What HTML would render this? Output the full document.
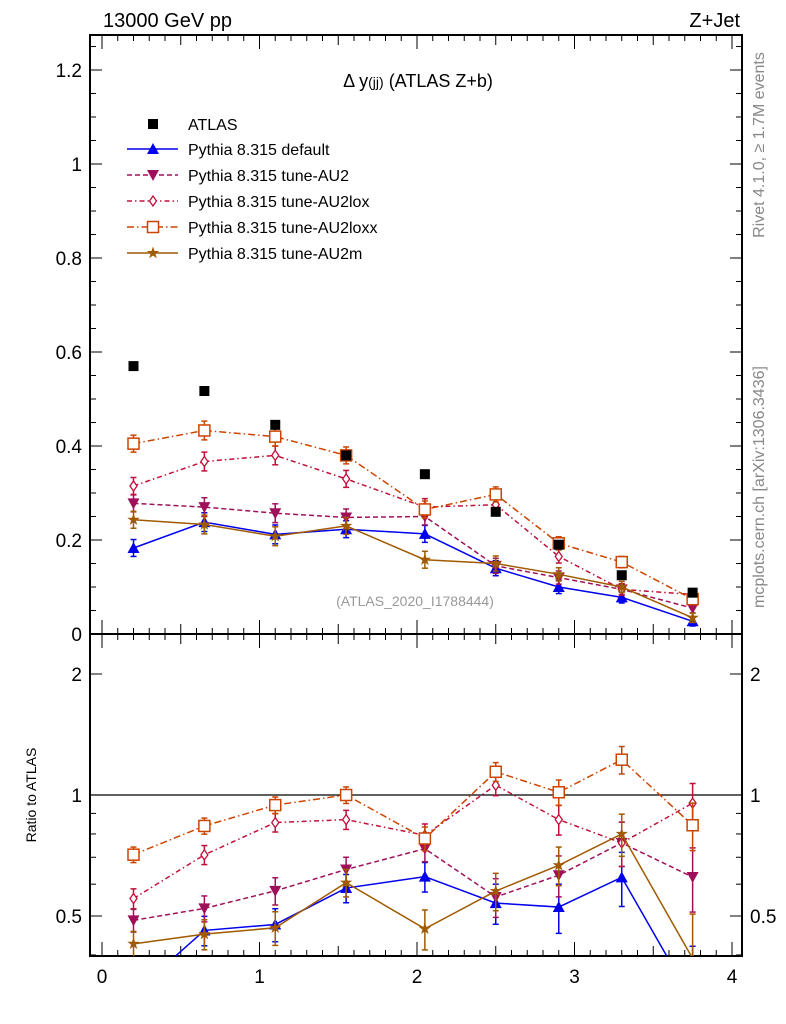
<!DOCTYPE html>
<html><head><meta charset="utf-8"><style>
html,body{margin:0;padding:0;background:#fff;overflow:hidden;width:786px;height:1024px}
svg{display:block}
svg text{font-family:"Liberation Sans",sans-serif}
</style></head><body>
<svg id="c" width="786" height="1024" xmlns="http://www.w3.org/2000/svg"></svg>
<script>
const xCenters=[0.2,0.65,1.1,1.55,2.05,2.5,2.9,3.3,3.75];
const atlas=[0.57,0.517,0.445,0.38,0.34,0.26,0.19,0.125,0.088];
const sDefault=[0.183,0.238,0.212,0.223,0.213,0.14,0.10,0.078,0.027];
const sAU2=[0.278,0.27,0.257,0.248,0.25,0.145,0.12,0.095,0.055];
const sAU2lox=[0.315,0.367,0.38,0.33,0.27,0.275,0.165,0.095,0.084];
const sAU2loxx=[0.405,0.433,0.42,0.38,0.265,0.297,0.193,0.153,0.074];
const sAU2m=[0.243,0.233,0.208,0.23,0.158,0.15,0.127,0.1,0.0345];
const errs=[0.018,0.02,0.02,0.018,0.018,0.016,0.014,0.012,0.01];
const xTicks=[0,1,2,3,4];
const yTicks=[0,0.2,0.4,0.6,0.8,1,1.2];
const yTickLabels=["0","0.2","0.4","0.6","0.8","1","1.2"];
const rTicks=[0.5,1,2];
const rTickLabels=["0.5","1","2"];

const L=90,R=742,T=35,MB=634,RB=956;
const X=v=>102+157.5*v;
const Y=v=>MB-470*v;
const RY=r=>795-402*Math.log10(r);
const svg=document.getElementById('c');
const NS='http://www.w3.org/2000/svg';
function el(tag,attrs,parent,txt){const e=document.createElementNS(NS,tag);for(const k in attrs)e.setAttribute(k,attrs[k]);if(txt!==undefined)e.textContent=txt;(parent||svg).appendChild(e);return e;}

const defs=el('defs',{});
const cp1=el('clipPath',{id:'cm'},defs);el('rect',{x:L,y:T,width:R-L,height:MB-T},cp1);
const cp2=el('clipPath',{id:'cr'},defs);el('rect',{x:L,y:MB,width:R-L,height:RB-MB},cp2);

let f=el('rect',{x:L,y:T,width:R-L,height:MB-T,fill:'none',stroke:'#000','stroke-width':2});

f=el('rect',{x:L,y:MB,width:R-L,height:RB-MB,fill:'none',stroke:'#000','stroke-width':2});


for(let v=0;v<=1.26;v+=0.05){const y=Y(v);const major=Math.abs(v/0.2-Math.round(v/0.2))<1e-6;const len=major?12:6;
 el('line',{x1:L,x2:L+len,y1:y,y2:y,stroke:'#000'});el('line',{x1:R,x2:R-len,y1:y,y2:y,stroke:'#000'});}
yTicks.forEach((v,i)=>{const t=el('text',{x:82,y:Y(v)+7,'text-anchor':'end','font-size':19},svg,yTickLabels[i]);
 });
for(let v=0;v<=4.05;v+=0.1){const x=X(v);const major=Math.abs(v-Math.round(v))<1e-6;const mid=Math.abs(v*2-Math.round(v*2))<1e-6;const len=major?14:(mid?10:6);
 [MB,RB].forEach(b=>el('line',{x1:x,x2:x,y1:b,y2:b-len,stroke:'#000'}));
 el('line',{x1:x,x2:x,y1:MB,y2:MB+len,stroke:'#000'});el('line',{x1:x,x2:x,y1:T,y2:T+len,stroke:'#000'});}
xTicks.forEach(v=>{const t=el('text',{x:X(v),y:983,'text-anchor':'middle','font-size':19},svg,String(v));
 });
[0.4,0.5,0.6,0.7,0.8,0.9,1,2].forEach(r=>{const y=RY(r);const major=[0.5,1,2].includes(r);const len=major?12:6;
 el('line',{x1:L,x2:L+len,y1:y,y2:y,stroke:'#000'});el('line',{x1:R,x2:R-len,y1:y,y2:y,stroke:'#000'});});
rTicks.forEach((r,i)=>{[[82,'end'],[750,'start']].forEach(([x,a])=>{const t=el('text',{x:x,y:RY(r)+7,'text-anchor':a,'font-size':19},svg,rTickLabels[i]);
 });});
el('line',{x1:L,x2:R,y1:RY(1),y2:RY(1),stroke:'#000','stroke-width':1.2});

const texts=[[103,27,'13000 GeV pp','start',20,'#000','header-energy'],[740,27,'Z+Jet','end',20,'#000','header-process'],
[415,606,'(ATLAS_2020_I1788444)','middle',14,'#999','analysis-id']];
texts.forEach(a=>{const t=el('text',{x:a[0],y:a[1],'text-anchor':a[3],'font-size':a[4],fill:a[5]},svg,a[2]);});
let t=el('text',{x:418,y:87,'text-anchor':'middle','font-size':18},svg);
t.innerHTML='Δ y<tspan font-size="14">(jj)</tspan> (ATLAS Z+b)';
t=el('text',{x:0,y:0,transform:'translate(764,145) rotate(-90)','text-anchor':'middle','font-size':16,fill:'#888'},svg,'Rivet 4.1.0, ≥ 1.7M events');

t=el('text',{x:0,y:0,transform:'translate(764,487) rotate(-90)','text-anchor':'middle','font-size':16,fill:'#888'},svg,'mcplots.cern.ch [arXiv:1306.3436]');

t=el('text',{x:0,y:0,transform:'translate(36,795) rotate(-90)','text-anchor':'middle','font-size':14},svg,'Ratio to ATLAS');


function marker(g,kind,x,y,c){
 if(kind==='sq')el('rect',{x:x-5,y:y-5,width:10,height:10,fill:'#000'},g);
 else if(kind==='tri')el('polygon',{points:`${x},${y-6} ${x-6},${y+5} ${x+6},${y+5}`,fill:c},g);
 else if(kind==='itri')el('polygon',{points:`${x},${y+6} ${x-6},${y-5} ${x+6},${y-5}`,fill:c},g);
 else if(kind==='dia')el('polygon',{points:`${x},${y-5} ${x-3.5},${y} ${x},${y+5} ${x+3.5},${y}`,fill:'#fff',stroke:c,'stroke-width':1.3},g);
 else if(kind==='osq')el('rect',{x:x-5.5,y:y-5.5,width:11,height:11,fill:'#fff',stroke:c,'stroke-width':1.5},g);
 else if(kind==='star'){let p=[];for(let i=0;i<10;i++){const r=i%2?2.5:6.5,a=-Math.PI/2+i*Math.PI/5;p.push((x+r*Math.cos(a)).toFixed(1)+','+(y+r*Math.sin(a)).toFixed(1));}el('polygon',{points:p.join(' '),fill:c},g);}
}
const series=[
 {name:'Pythia 8.315 default',vals:sDefault,c:'#0000ee',dash:'',m:'tri',id:'default'},
 {name:'Pythia 8.315 tune-AU2',vals:sAU2,c:'#a0105a',dash:'5,3',m:'itri',id:'au2'},
 {name:'Pythia 8.315 tune-AU2lox',vals:sAU2lox,c:'#c0103a',dash:'5,3,1.5,3',m:'dia',id:'au2lox'},
 {name:'Pythia 8.315 tune-AU2loxx',vals:sAU2loxx,c:'#cc4400',dash:'7,3,1.5,3',m:'osq',id:'au2loxx'},
 {name:'Pythia 8.315 tune-AU2m',vals:sAU2m,c:'#a05a00',dash:'',m:'star',id:'au2m'}];
series.forEach(s=>{
 const g=el('g',{'clip-path':'url(#cm)'});
 const gr=el('g',{'clip-path':'url(#cr)'});
 el('polyline',{points:s.vals.map((v,i)=>X(xCenters[i])+','+Y(v)).join(' '),fill:'none',stroke:s.c,'stroke-width':1.5,'stroke-dasharray':s.dash},g);
 el('polyline',{points:s.vals.map((v,i)=>X(xCenters[i])+','+RY(v/atlas[i])).join(' '),fill:'none',stroke:s.c,'stroke-width':1.5,'stroke-dasharray':s.dash},gr);
 s.vals.forEach((v,i)=>{const x=X(xCenters[i]);const e=errs[i];
  el('line',{x1:x,x2:x,y1:Y(v-e),y2:Y(v+e),stroke:s.c,'stroke-width':1.5},g);
  [v-e,v+e].forEach(q=>el('line',{x1:x-3,x2:x+3,y1:Y(q),y2:Y(q),stroke:s.c,'stroke-width':1.5},g));
  marker(g,s.m,x,Y(v),s.c);
  const r=v/atlas[i],rl=(v-e)/atlas[i],rh=(v+e)/atlas[i];
  el('line',{x1:x,x2:x,y1:RY(rl),y2:RY(rh),stroke:s.c,'stroke-width':1.5},gr);
  [rl,rh].forEach(q=>el('line',{x1:x-3,x2:x+3,y1:RY(q),y2:RY(q),stroke:s.c,'stroke-width':1.5},gr));
  marker(gr,s.m,x,RY(r),s.c);
 });
});
const ga=el('g',{});
atlas.forEach((v,i)=>marker(ga,'sq',X(xCenters[i]),Y(v),'#000'));

const lg=el('g',{});
marker(lg,'sq',153,124,'#000');
let lt=el('text',{x:188,y:130,'font-size':16},lg,'ATLAS');
series.forEach((s,i)=>{const y=149+i*26;
 el('line',{x1:127,x2:178,y1:y,y2:y,stroke:s.c,'stroke-width':1.5,'stroke-dasharray':s.dash},lg);
 marker(lg,s.m,153,y,s.c);
 const e=el('text',{x:188,y:y+6,'font-size':16},lg,s.name);});
</script>
</body></html>
